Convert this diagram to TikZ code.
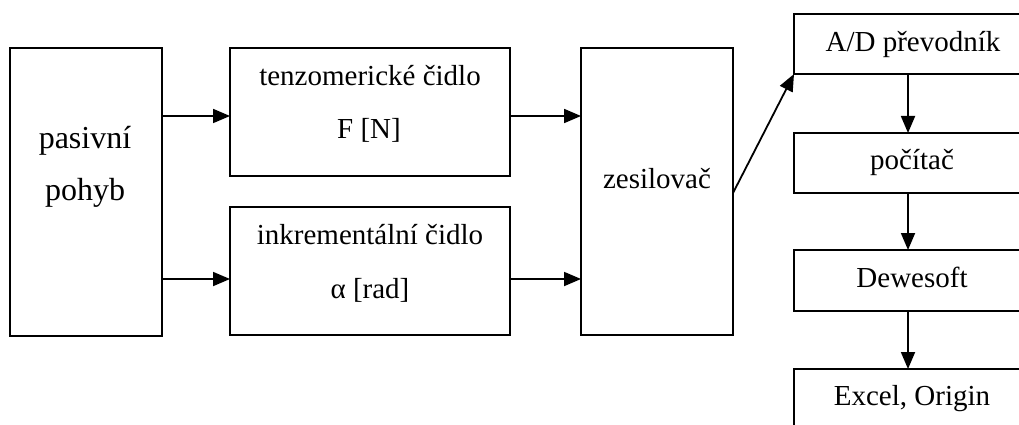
\documentclass[tikz,border=0pt]{standalone}
\usepackage{fontspec}
\setmainfont{Liberation Serif}
\usetikzlibrary{arrows.meta}
\begin{document}
\begin{tikzpicture}[x=1pt,y=-1pt,
  box/.style={draw,line width=1.8pt,rectangle,inner sep=0pt,outer sep=0pt},
  lbl/.style={anchor=base,inner sep=0pt,font=\fontsize{29}{35}\selectfont},
  biglbl/.style={lbl,font=\fontsize{32}{38}\selectfont},
  arr/.style={line width=1.8pt,-{Triangle[length=17pt,width=14pt]}}]
\useasboundingbox (0,0) rectangle (1019,425);
\clip (0,0) rectangle (1019,425);
% boxes
\node[box,minimum width=152pt,minimum height=288pt] (pas) at (86,192) {};
\node[box,minimum width=280pt,minimum height=128pt] (ten) at (370,112) {};
\node[box,minimum width=280pt,minimum height=128pt] (ink) at (370,271) {};
\node[box,minimum width=152pt,minimum height=287pt] (zes) at (657,191.5) {};
\node[box,minimum width=236pt,minimum height=60pt] (ad) at (912,44) {};
\node[box,minimum width=236pt,minimum height=60pt] (poc) at (912,163) {};
\node[box,minimum width=236pt,minimum height=61pt] (dew) at (912,280.5) {};
\node[box,minimum width=236pt,minimum height=100pt] (exc) at (912,419) {};
% texts
\node[biglbl] (t1) at (85,148) {pasivní};
\node[biglbl] (t2) at (85,200) {pohyb};
\node[lbl] (t3) at (370,86) {tenzomerické čidlo};
\node[lbl] (t4) at (369,139) {F [N]};
\node[lbl] (t5) at (370,244) {inkrementální čidlo};
\node[lbl] (t6) at (370,298) {α [rad]};
\node[lbl] (t7) at (657,188) {zesilovač};
\node[lbl] (t8) at (913,52) {A/D převodník};
\node[lbl] (t9) at (912,169) {počítač};
\node[lbl] (t10) at (912,287) {Dewesoft};
\node[lbl] (t11) at (912,405) {Excel, Origin};
% rows
\coordinate (r1) at (0,116);
\coordinate (r2) at (0,279);
\coordinate (r3) at (0,193);
% connectors
\draw[arr] (pas.east |- r1) -- (ten.west |- r1);
\draw[arr] (pas.east |- r2) -- (ink.west |- r2);
\draw[arr] (ten.east |- r1) -- (zes.west |- r1);
\draw[arr] (ink.east |- r2) -- (zes.west |- r2);
\draw[arr] (zes.east |- r3) -- (ad.south west);
\coordinate (vx) at (908,0);
\draw[arr] (ad.south -| vx) -- (poc.north -| vx);
\draw[arr] (poc.south -| vx) -- (dew.north -| vx);
\draw[arr] (dew.south -| vx) -- (exc.north -| vx);
\end{tikzpicture}
\end{document}
